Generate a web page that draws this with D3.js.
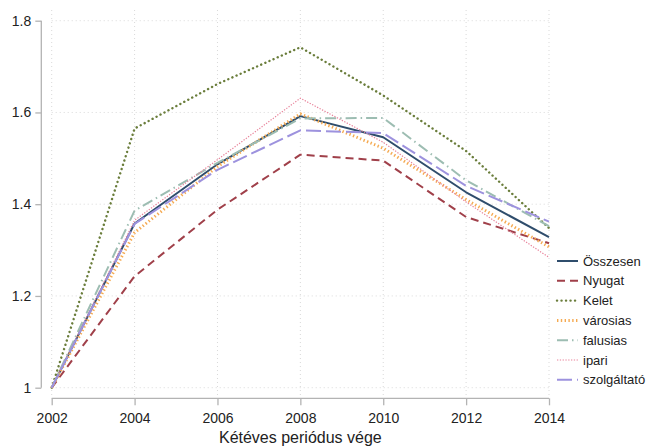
<!DOCTYPE html>
<html>
<head>
<meta charset="utf-8">
<script src="https://cdn.jsdelivr.net/npm/d3@7"></script>
<style>
  html, body { margin: 0; padding: 0; background: #fff; }
  svg { display: block; font-family: "Liberation Sans", Arial, sans-serif; }
</style>
</head>
<body>
<svg id="chart" width="670" height="447"></svg>
<script>
// Two-year period end years
const years = [2002, 2004, 2006, 2008, 2010, 2012, 2014];

// Index values (2002 = 1) per group
const osszesen    = [1, 1.358, 1.487, 1.592, 1.546, 1.426, 1.328];
const nyugat      = [1, 1.243, 1.388, 1.508, 1.495, 1.372, 1.315];
const kelet       = [1, 1.565, 1.662, 1.742, 1.637, 1.516, 1.348];
const varosias    = [1, 1.338, 1.482, 1.597, 1.522, 1.410, 1.307];
const falusias    = [1, 1.386, 1.490, 1.587, 1.588, 1.452, 1.352];
const ipari       = [1, 1.365, 1.497, 1.631, 1.535, 1.405, 1.284];
const szolgaltato = [1, 1.357, 1.475, 1.561, 1.555, 1.440, 1.362];

const yTicks = [1, 1.2, 1.4, 1.6, 1.8];
const yTickLabels = ["1", "1.2", "1.4", "1.6", "1.8"];
const xTitle = "Kétéves periódus vége";

const series = [
  { name: "Összesen",    values: osszesen,    color: "#2f4d6c", width: 2,   dash: null,        cap: "butt" },
  { name: "Nyugat",      values: nyugat,      color: "#a0404a", width: 2,   dash: "8,5",       cap: "butt" },
  { name: "Kelet",       values: kelet,       color: "#6a7d3b", width: 2.4, dash: "0.1,4.4",   cap: "round" },
  { name: "városias",    values: varosias,    color: "#f5aa52", width: 3,   dash: "1.4,2.4",   cap: "butt" },
  { name: "falusias",    values: falusias,    color: "#9dbdb2", width: 2,   dash: "11,4,1.5,4", cap: "butt" },
  { name: "ipari",       values: ipari,       color: "#e8829a", width: 1.2, dash: "1.3,1.5",   cap: "butt" },
  { name: "szolgáltató", values: szolgaltato, color: "#9d92de", width: 2,   dash: "15,5",      cap: "butt" }
];

const svg = d3.select("#chart");

const x = d3.scaleLinear().domain([2002, 2014]).range([51.7, 549]);
const y = d3.scaleLinear().domain([1, 1.8]).range([387.7, 20.7]);

const gridColor = "#d9d9d9";
const axisColor = "#b3b3b3";

// Grid
const grid = svg.append("g");
grid.selectAll("line.h").data(yTicks).join("line")
  .attr("x1", x(2002)).attr("x2", x(2014))
  .attr("y1", d => y(d)).attr("y2", d => y(d))
  .attr("stroke", gridColor).attr("stroke-width", 1)
  .attr("stroke-dasharray", "1,3");
grid.selectAll("line.v").data(years).join("line")
  .attr("x1", d => x(d)).attr("x2", d => x(d))
  .attr("y1", 10).attr("y2", 398)
  .attr("stroke", gridColor).attr("stroke-width", 1)
  .attr("stroke-dasharray", "1,3");

// Y axis
const yAxis = d3.axisLeft(y).tickValues(yTicks)
  .tickFormat((d, i) => yTickLabels[i]).tickSize(6).tickPadding(4);
const gy = svg.append("g").attr("transform", "translate(41.3,0)").call(yAxis);
gy.select(".domain").attr("stroke", axisColor).attr("stroke-width", 1.3)
  .attr("d", `M0,${y(1.8)}V${y(1)}`);
gy.selectAll(".tick line").attr("stroke", axisColor).attr("stroke-width", 1.3);
gy.selectAll(".tick text").attr("font-size", 14).attr("fill", "#222")
  .attr("font-family", "Liberation Sans, Arial, sans-serif");

// X axis
const xAxis = d3.axisBottom(x).tickValues(years).tickFormat(d3.format("d"))
  .tickSize(7).tickPadding(8);
const gx = svg.append("g").attr("transform", "translate(0,398.3)").call(xAxis);
gx.select(".domain").attr("stroke", axisColor).attr("stroke-width", 1.3)
  .attr("d", `M${x(2002)},0H${x(2014)}`);
gx.selectAll(".tick line").attr("stroke", axisColor).attr("stroke-width", 1.3);
gx.selectAll(".tick text").attr("font-size", 14).attr("fill", "#222")
  .attr("font-family", "Liberation Sans, Arial, sans-serif");

svg.append("text")
  .attr("x", x(2008)).attr("y", 443)
  .attr("text-anchor", "middle")
  .attr("font-size", 16).attr("fill", "#222")
  .text(xTitle);

// Lines
const line = d3.line().x((d, i) => x(years[i])).y(d => y(d));
svg.append("g").selectAll("path").data(series).join("path")
  .attr("d", d => line(d.values))
  .attr("fill", "none")
  .attr("stroke", d => d.color)
  .attr("stroke-width", d => d.width)
  .attr("stroke-dasharray", d => d.dash)
  .attr("stroke-linecap", d => d.cap)
  .attr("stroke-linejoin", "round");

// Legend
const legend = svg.append("g");
const rows = legend.selectAll("g").data(series).join("g")
  .attr("transform", (d, i) => `translate(557,${261 + i * 19.8})`);
rows.append("line")
  .attr("x1", 0).attr("x2", 21).attr("y1", 0).attr("y2", 0)
  .attr("stroke", d => d.color)
  .attr("stroke-width", d => d.width)
  .attr("stroke-dasharray", d => d.dash)
  .attr("stroke-linecap", d => d.cap);
rows.append("text")
  .attr("x", 26).attr("y", 0).attr("dy", "0.35em")
  .attr("font-size", 13).attr("fill", "#222")
  .text(d => d.name);
</script>
</body>
</html>
